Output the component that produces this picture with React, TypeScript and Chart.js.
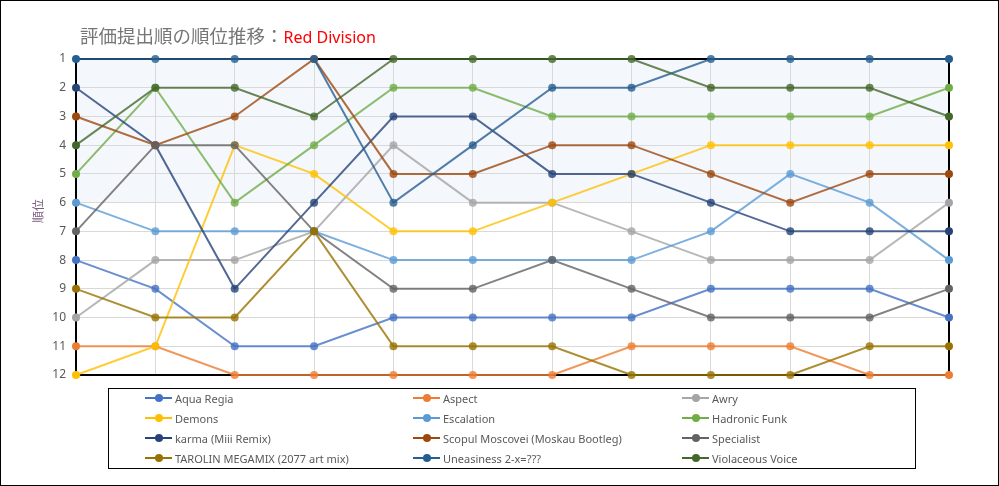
import { useEffect, useRef } from 'react';
import { Chart, ChartConfiguration, Plugin, registerables } from 'chart.js';

Chart.register(...registerables);

// submission order (1st..12th evaluation)
const rounds = ['1', '2', '3', '4', '5', '6', '7', '8', '9', '10', '11', '12'];
const rankTicks = [1, 2, 3, 4, 5, 6, 7, 8, 9, 10, 11, 12];

const seriesNames = [
  'Aqua Regia',
  'Aspect',
  'Awry',
  'Demons',
  'Escalation',
  'Hadronic Funk',
  'karma (Miii Remix)',
  'Scopul Moscovei (Moskau Bootleg)',
  'Specialist',
  'TAROLIN MEGAMIX (2077 art mix)',
  'Uneasiness 2-x=???',
  'Violaceous Voice',
];

const seriesColors = [
  '#4472C4',
  '#ED7D31',
  '#A5A5A5',
  '#FFC000',
  '#5B9BD5',
  '#70AD47',
  '#264478',
  '#9E480E',
  '#636363',
  '#997300',
  '#255E91',
  '#43682B',
];

const aquaRegia = [8, 9, 11, 11, 10, 10, 10, 10, 9, 9, 9, 10];
const aspect = [11, 11, 12, 12, 12, 12, 12, 11, 11, 11, 12, 12];
const awry = [10, 8, 8, 7, 4, 6, 6, 7, 8, 8, 8, 6];
const demons = [12, 11, 4, 5, 7, 7, 6, 5, 4, 4, 4, 4];
const escalation = [6, 7, 7, 7, 8, 8, 8, 8, 7, 5, 6, 8];
const hadronicFunk = [5, 2, 6, 4, 2, 2, 3, 3, 3, 3, 3, 2];
const karma = [2, 4, 9, 6, 3, 3, 5, 5, 6, 7, 7, 7];
const scopulMoscovei = [3, 4, 3, 1, 5, 5, 4, 4, 5, 6, 5, 5];
const specialist = [7, 4, 4, 7, 9, 9, 8, 9, 10, 10, 10, 9];
const tarolin = [9, 10, 10, 7, 11, 11, 11, 12, 12, 12, 11, 11];
const uneasiness = [1, 1, 1, 1, 6, 4, 2, 2, 1, 1, 1, 1];
const violaceousVoice = [4, 2, 2, 3, 1, 1, 1, 1, 2, 2, 2, 3];

const seriesValues = [
  aquaRegia,
  aspect,
  awry,
  demons,
  escalation,
  hadronicFunk,
  karma,
  scopulMoscovei,
  specialist,
  tarolin,
  uneasiness,
  violaceousVoice,
];

// ranks 1..6 get the light band
const bandFrom = 1;
const bandTo = 6;

function withAlpha(hex: string, a: number) {
  const r = parseInt(hex.slice(1, 3), 16);
  const g = parseInt(hex.slice(3, 5), 16);
  const b = parseInt(hex.slice(5, 7), 16);
  return `rgba(${r}, ${g}, ${b}, ${a})`;
}

const bandPlugin: Plugin = {
  id: 'band',
  beforeDraw(chart) {
    const { ctx, chartArea, scales } = chart;
    const y1 = scales.y.getPixelForValue(bandFrom);
    const y2 = scales.y.getPixelForValue(bandTo);
    ctx.save();
    ctx.fillStyle = '#F4F7FC';
    ctx.fillRect(chartArea.left, y1, chartArea.right - chartArea.left, y2 - y1);
    ctx.restore();
  },
  beforeDatasetsDraw(chart) {
    const { ctx, chartArea } = chart;
    ctx.save();
    ctx.strokeStyle = '#000';
    ctx.lineWidth = 2;
    ctx.strokeRect(chartArea.left, chartArea.top, chartArea.right - chartArea.left, chartArea.bottom - chartArea.top);
    ctx.restore();
  },
};

const font = '"Noto Sans", "Open Sans", sans-serif';

export default function App() {
  const chartRef = useRef<HTMLCanvasElement>(null);
  const chartInstance = useRef<Chart | null>(null);

  useEffect(() => {
    if (!chartRef.current) return;
    if (chartInstance.current) {
      chartInstance.current.destroy();
    }
    const ctx = chartRef.current.getContext('2d');
    if (!ctx) return;

    const n = seriesNames.length;
    const config: ChartConfiguration = {
      type: 'line',
      data: {
        labels: rounds,
        datasets: seriesNames.map((name, i) => ({
          label: name,
          data: seriesValues[i],
          borderColor: withAlpha(seriesColors[i], 0.8),
          backgroundColor: seriesColors[i],
          pointBackgroundColor: (c: any) =>
            c.dataIndex === 0 || c.dataIndex === rounds.length - 1
              ? seriesColors[i]
              : withAlpha(seriesColors[i], 0.8),
          pointBorderWidth: 0,
          pointRadius: 4,
          borderWidth: 2,
          tension: 0,
          fill: false,
          clip: false as any,
          order: n - i,
        })),
      },
      options: {
        animation: false,
        responsive: true,
        maintainAspectRatio: false,
        layout: {
          padding: { top: 59, bottom: 111, right: 50, left: 0 },
        },
        plugins: {
          legend: { display: false },
          tooltip: { enabled: false },
        },
        scales: {
          x: {
            offset: false,
            grid: { color: '#D9D9D9', drawTicks: false },
            border: { display: false },
            ticks: { display: false },
            afterFit: (scale: any) => {
              scale.height = 0;
            },
          },
          y: {
            reverse: true,
            min: rankTicks[0],
            max: rankTicks[rankTicks.length - 1],
            grid: { color: '#D9D9D9', drawTicks: false },
            border: { display: false },
            ticks: {
              stepSize: 1,
              padding: 10,
              color: '#595959',
              font: { family: font, size: 12 },
            },
            afterFit: (scale: any) => {
              scale.width = 76;
            },
          },
        },
      },
      plugins: [bandPlugin],
    };

    chartInstance.current = new Chart(ctx, config);

    return () => {
      if (chartInstance.current) {
        chartInstance.current.destroy();
        chartInstance.current = null;
      }
    };
  }, []);

  const legendCols = [145, 413, 682];
  const legendRows = [398, 418, 438, 458];

  return (
    <div
      style={{
        position: 'absolute',
        left: 0,
        top: 0,
        width: 999,
        height: 486,
        background: '#fff',
        fontFamily: font,
      }}
    >
      <div style={{ position: 'absolute', left: 0, top: 0, width: 999, height: 486 }}>
        <canvas ref={chartRef}></canvas>
      </div>
      <div
        style={{
          position: 'absolute',
          left: 0,
          top: 0,
          width: 999,
          height: 486,
          boxSizing: 'border-box',
          border: '1px solid #000',
          pointerEvents: 'none',
        }}
      />
      <div
        style={{
          position: 'absolute',
          left: 80,
          top: 22,
          whiteSpace: 'nowrap',
          lineHeight: '26px',
        }}
      >
        <span style={{ color: '#767676', fontSize: 18.5, fontFamily: '"Noto Sans CJK JP", sans-serif' }}>
          評価提出順の順位推移：
        </span>
        <span style={{ color: '#FF0000', fontSize: 16 }}>Red Division</span>
      </div>
      <div
        style={{
          position: 'absolute',
          left: 37,
          top: 211,
          transform: 'translate(-50%, -50%) rotate(-90deg)',
          color: '#7F6084',
          fontSize: 12,
          fontFamily: '"Noto Sans CJK JP", sans-serif',
          whiteSpace: 'nowrap',
        }}
      >
        順位
      </div>
      <div
        style={{
          position: 'absolute',
          left: 108,
          top: 388,
          width: 808,
          height: 81,
          boxSizing: 'border-box',
          border: '1px solid #000',
        }}
      />
      {seriesNames.map((name, i) => {
        const x = legendCols[i % 3];
        const y = legendRows[Math.floor(i / 3)];
        return (
          <div
            key={name}
            style={{ position: 'absolute', left: x, top: y - 8, height: 16, display: 'flex', alignItems: 'center' }}
          >
            <div style={{ position: 'relative', width: 27, height: 16 }}>
              <div
                style={{ position: 'absolute', left: 0, top: 7, width: 27, height: 2, background: seriesColors[i] }}
              />
              <div
                style={{
                  position: 'absolute',
                  left: 10,
                  top: 4,
                  width: 8,
                  height: 8,
                  borderRadius: 4,
                  background: seriesColors[i],
                }}
              />
            </div>
            <span style={{ marginLeft: 3, color: '#595959', fontSize: 11, whiteSpace: 'nowrap' }}>{name}</span>
          </div>
        );
      })}
    </div>
  );
}
